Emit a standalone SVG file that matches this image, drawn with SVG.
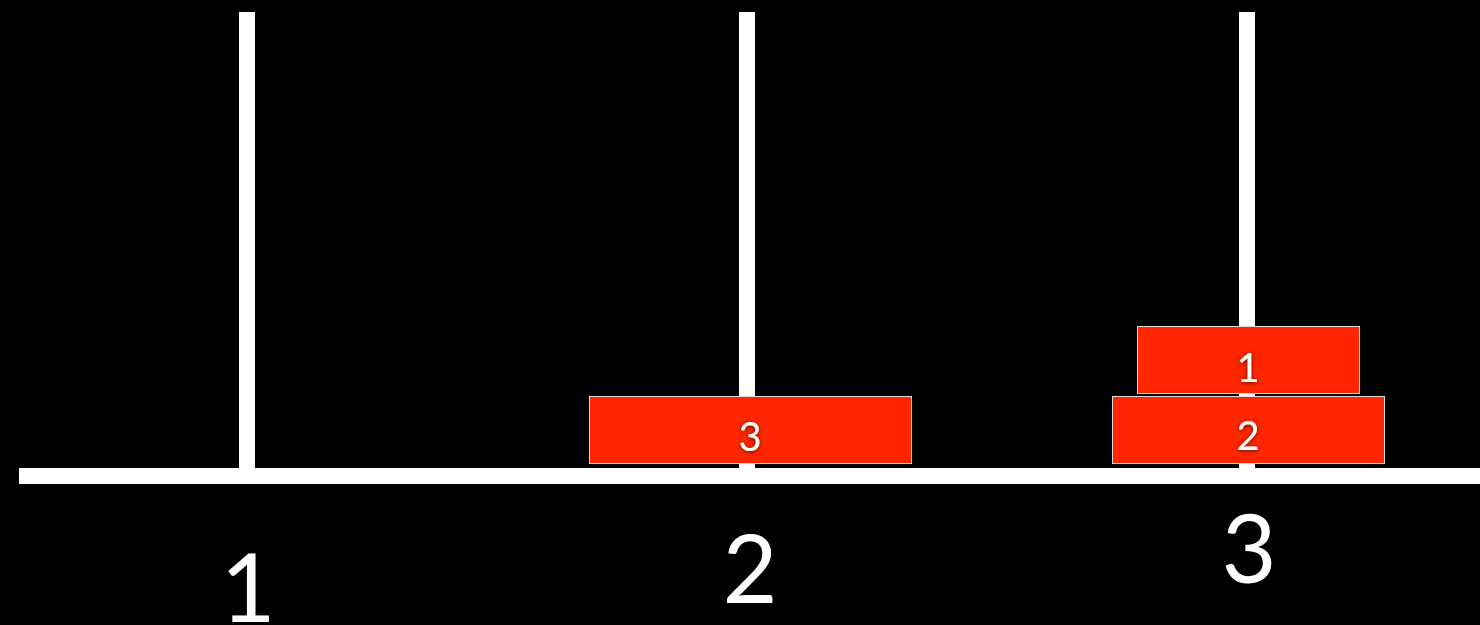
<svg xmlns="http://www.w3.org/2000/svg" width="1480" height="625" viewBox="0 0 1480 625">
<defs>
<style>
.bar{fill:#ffffff}
.disk{fill:#ff2600;stroke:#d8d8d8;stroke-width:1}
.dl{fill:#ffffff;font-family:Lato,"Open Sans","DejaVu Sans",sans-serif;font-size:40px;text-anchor:middle;filter:url(#sh)}
.pl{fill:#ffffff;font-family:Lato,"Open Sans","DejaVu Sans",sans-serif;font-size:95px;text-anchor:middle}
</style>
<filter id="sh" x="-50%" y="-50%" width="200%" height="200%">
<feDropShadow dx="0" dy="1" stdDeviation="2" flood-color="#000000" flood-opacity="0.6"/>
</filter>
</defs>
<rect x="0" y="0" width="1480" height="625" fill="#000000"/>
<g id="pegs">
<rect class="bar" x="239" y="12" width="16" height="460"/>
<rect class="bar" x="739" y="12" width="16" height="460"/>
<rect class="bar" x="1239" y="12" width="16" height="460"/>
</g>
<g id="base">
<rect class="bar" x="19" y="468" width="1461" height="16"/>
</g>
<g id="disk3">
<rect class="disk" x="589.5" y="396.5" width="322" height="67"/>
<text class="dl" x="750" y="451">3</text>
</g>
<g id="disk1">
<rect class="disk" x="1137.5" y="326.5" width="222" height="67"/>
<text class="dl" x="1248" y="382">1</text>
</g>
<g id="disk2">
<rect class="disk" x="1112.5" y="396.5" width="272" height="67"/>
<text class="dl" x="1248" y="450">2</text>
</g>
<g id="label1"><text class="pl" x="248" y="622">1</text></g>
<g id="label2"><text class="pl" x="750" y="603">2</text></g>
<g id="label3"><text class="pl" x="1249" y="583">3</text></g>
</svg>
